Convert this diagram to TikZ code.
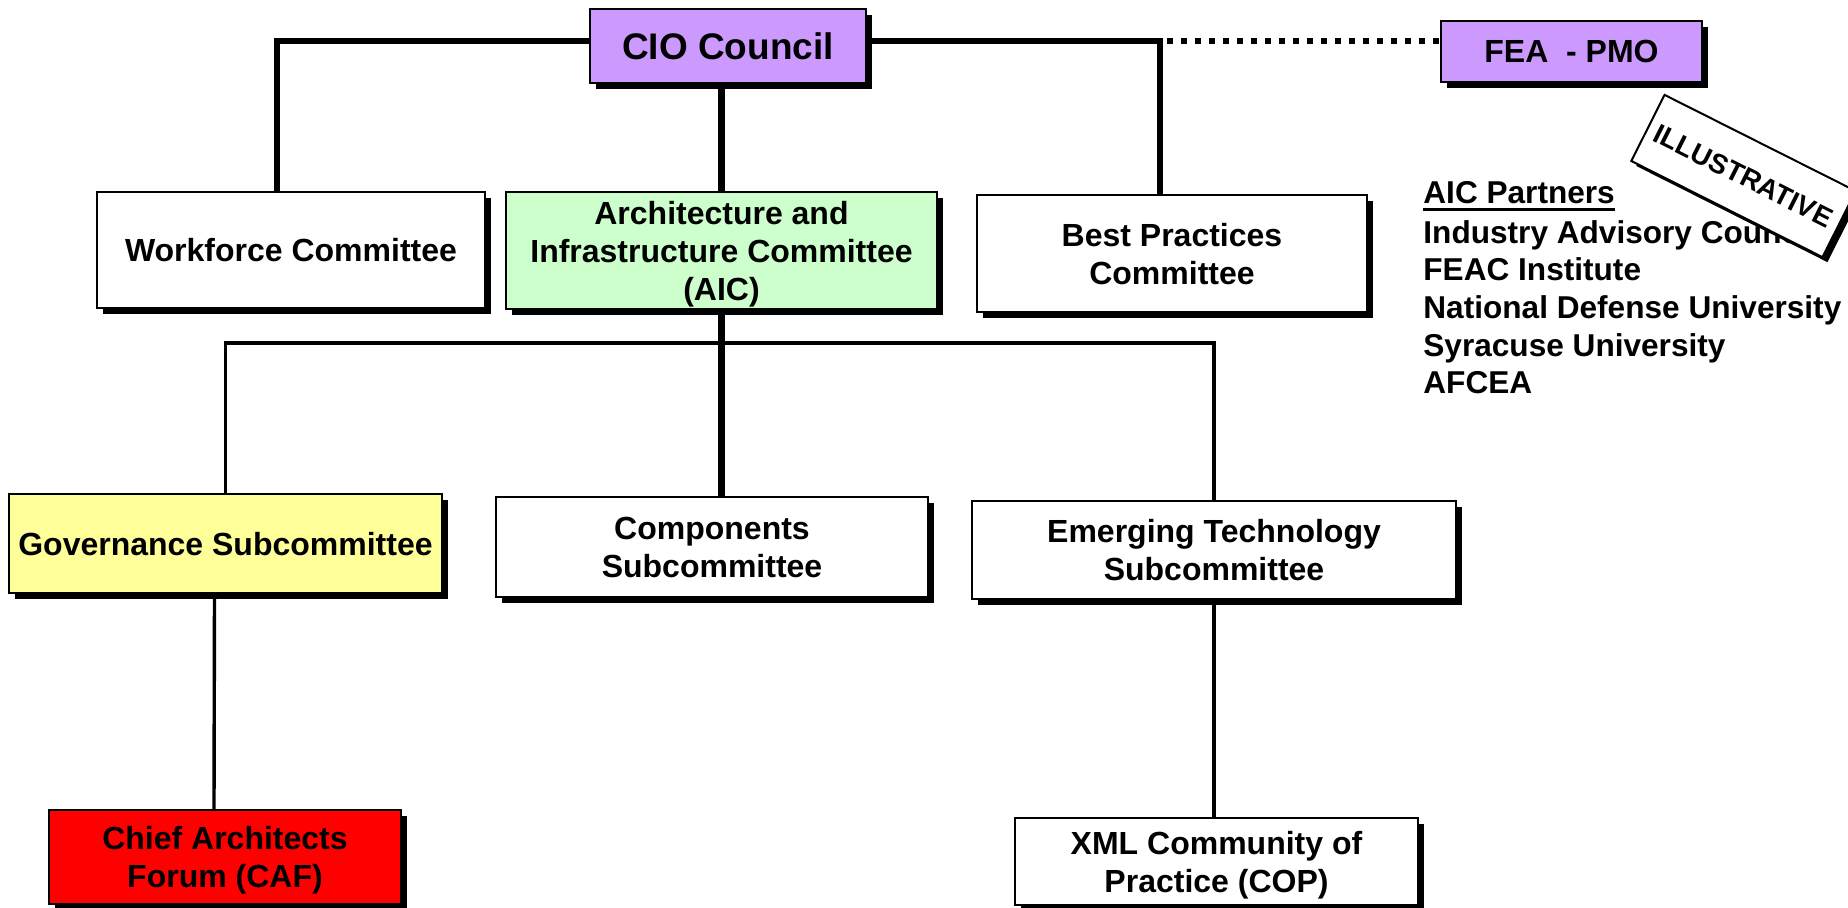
\documentclass[tikz,border=0pt]{standalone}
\usepackage{fontspec}
\setmainfont{Liberation Sans}
\usetikzlibrary{shadows}

\definecolor{lilac}{HTML}{CC99FF}
\definecolor{mint}{HTML}{CCFFCC}
\definecolor{lemon}{HTML}{FFFF99}

\begin{document}
\begin{tikzpicture}[x=0.5pt, y=-0.5pt,
  box/.style={draw=black, line width=0.8pt, fill=white, align=center, inner sep=0pt,
    text depth=-3pt, font=\bfseries\fontsize{16}{19}\selectfont,
    drop shadow={shadow xshift=2.8pt, shadow yshift=-2.8pt, fill=black, opacity=1}},
  stampbox/.style={draw=black, line width=1pt, fill=white, rotate=-26.7, inner sep=0pt,
    minimum width=107pt, minimum height=37pt, font=\bfseries\fontsize{13.8}{16}\selectfont,
    drop shadow={shadow xshift=2.5pt, shadow yshift=-2.5pt, fill=black, opacity=1}},
  thickline/.style={line width=3.3pt},
  thinline/.style={line width=1.7pt},
  dotline/.style={line width=3pt, dash pattern=on 3pt off 4pt},
  partner/.style={anchor=base west, inner sep=0pt, font=\bfseries\fontsize{15.8}{19}\selectfont}]
\useasboundingbox (0,0) rectangle (1848,907);

% council
\node[box, fill=lilac, minimum width=138pt, minimum height=37pt,
  font=\bfseries\fontsize{18.5}{22}\selectfont] (cio) at (728,46) {CIO Council};
\node[box, fill=lilac, minimum width=130.5pt, minimum height=30.5pt] (fea) at (1571.5,51.5) {FEA\ \ - PMO};

% committees
\node[box, minimum width=194pt, minimum height=58pt] (work) at (291,250) {Workforce Committee};
\node[box, fill=mint, minimum width=215.5pt, minimum height=58.5pt] (aic) at (721.5,250.5)
  {Architecture and\\Infrastructure Committee\\(AIC)};
\node[box, minimum width=195pt, minimum height=58.5pt] (best) at (1172,253.5) {Best Practices\\Committee};

% subcommittees
\node[box, fill=lemon, minimum width=216.5pt, minimum height=49.5pt] (gov) at (225.5,543.5) {Governance Subcommittee};
\node[box, minimum width=216pt, minimum height=50pt] (comp) at (712,547) {Components\\Subcommittee};
\node[box, minimum width=242pt, minimum height=49pt] (emer) at (1214,550) {Emerging Technology\\Subcommittee};

% forums
\node[box, fill=red, minimum width=176pt, minimum height=47pt] (caf) at (225,857) {Chief Architects\\Forum (CAF)};
\node[box, minimum width=201.5pt, minimum height=43.5pt] (xml) at (1216.5,861.5) {XML Community of\\Practice (COP)};

% connectors
\coordinate (tl) at (277,41);
\coordinate (tr) at (1160,41);
\coordinate (bar) at (720,343);
\draw[thickline] (cio.west |- tl) -- (tl) -- (tl |- work.north);
\draw[thickline] (cio.east |- tr) -- (tr) -- (tr |- best.north);
\draw[thickline] (aic.north) -- (aic.north |- cio.south);
\draw[thickline] (aic.south) -- (aic.south |- comp.north);
\draw[thinline] (gov.north) |- (bar) -| (emer.north);
\draw[thinline] ([xshift=-5.5pt]gov.south) -- ([xshift=-5.5pt]caf.north);
\draw[thinline] (emer.south) -- (emer.south |- xml.north);
\draw[dotline] ([xshift=3.5pt]tr) -- (tr -| fea.west);

% partners
\node[partner] (aicp) at (1423,203) {AIC Partners};
\draw[line width=1.5pt] ([yshift=-3pt]aicp.base west) -- ([yshift=-3pt]aicp.base east);
\foreach \name [count=\i] in {Industry Advisory Council, FEAC Institute, National Defense University, Syracuse University, AFCEA}
  \node[partner] (p\i) at (1423,205.3+37.7*\i) {\name};

\node[stampbox] (stamp) at (1743.5,176) {ILLUSTRATIVE};

\end{tikzpicture}
\end{document}
